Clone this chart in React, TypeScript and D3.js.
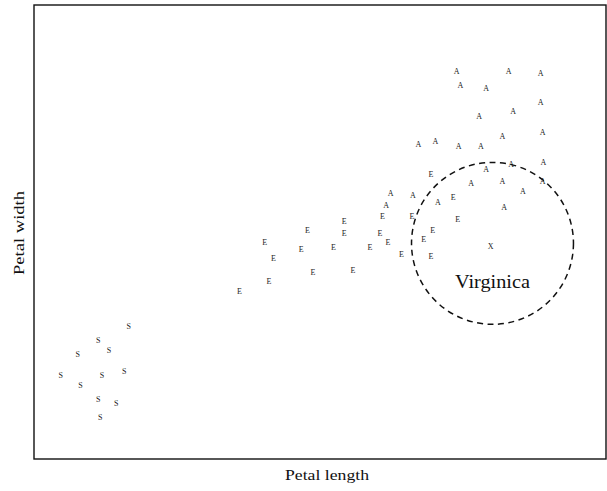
import React from "react";
import * as d3 from "d3";

// Petal length (x) and petal width (y) per species
const setosaLength = [1.81, 1.47, 1.59, 1.24, 1.05, 1.51, 1.76, 1.27, 1.47, 1.67, 1.49];
const setosaWidth = [0.76, 0.68, 0.62, 0.6, 0.48, 0.48, 0.5, 0.42, 0.34, 0.32, 0.24];

const versicolorLength = [4.22, 4.65, 4.98, 3.81, 4.22, 4.62, 5.21, 3.33, 4.71, 5.11, 3.74, 4.1, 4.51, 4.86, 5.19, 3.43, 3.87, 4.32, 3.38, 3.05, 5.19, 5.44, 5.49];
const versicolorWidth = [1.36, 1.39, 1.39, 1.31, 1.29, 1.29, 1.31, 1.24, 1.24, 1.26, 1.2, 1.21, 1.21, 1.17, 1.16, 1.15, 1.07, 1.08, 1.02, 0.96, 1.63, 1.5, 1.37];

const virginicaLength = [5.48, 6.06, 6.42, 5.52, 5.81, 6.42, 6.11, 5.73, 6.44, 5.99, 5.05, 5.24, 5.5, 5.75, 5.81, 6.09, 6.45, 5.64, 5.99, 6.44, 6.22, 4.99, 5.27, 4.74, 4.69, 6.01];
const virginicaWidth = [2.22, 2.22, 2.21, 2.14, 2.12, 2.04, 1.99, 1.96, 1.87, 1.85, 1.8, 1.82, 1.79, 1.79, 1.66, 1.69, 1.7, 1.58, 1.59, 1.59, 1.53, 1.51, 1.47, 1.52, 1.45, 1.44];

const speciesSymbols = ["S", "E", "A"];

// Marked point and its ring annotation
const centerPoint = { length: 5.86, width: 1.22, symbol: "X" };
const ringCenter = { length: 5.88, width: 1.235, radius: 0.906 };
const ringLabel = { text: "Virginica", length: 5.88, width: 0.98 };

const xLabel = "Petal length";
const yLabel = "Petal width";

const W = 607;
const H = 491;
const left = 34;
const right = 606;
const top = 5;
const bottom = 459;

export default function App() {
  const x = d3.scaleLinear().domain([0.75, 7.15]).range([left, right]);
  const y = d3.scaleLinear().domain([0, 2.6]).range([bottom, top]);

  const groups = [
    { lengths: setosaLength, widths: setosaWidth, sym: speciesSymbols[0] },
    { lengths: versicolorLength, widths: versicolorWidth, sym: speciesSymbols[1] },
    { lengths: virginicaLength, widths: virginicaWidth, sym: speciesSymbols[2] },
  ];

  const pxPerUnit = x(1) - x(0);
  const font = "'Liberation Serif', 'Times New Roman', Times, serif";

  return (
    <svg
      width={W}
      height={H}
      style={{ position: "absolute", left: 0, top: 0, background: "#fff", fontFamily: font }}
    >
      <rect x={left} y={top} width={right - left} height={bottom - top} fill="none" stroke="#111" strokeWidth={1.4} />
      {groups.map((g, gi) =>
        g.lengths.map((l, i) => (
          <text
            key={gi + "-" + i}
            x={x(l)}
            y={y(g.widths[i])}
            dy="0.33em"
            textAnchor="middle"
            fontSize={8}
            fill="#222"
          >
            {g.sym}
          </text>
        ))
      )}
      <text
        x={x(centerPoint.length)}
        y={y(centerPoint.width)}
        dy="0.33em"
        textAnchor="middle"
        fontSize={8}
        fill="#222"
      >
        {centerPoint.symbol}
      </text>
      <circle
        cx={x(ringCenter.length)}
        cy={y(ringCenter.width)}
        r={ringCenter.radius * pxPerUnit}
        fill="none"
        stroke="#111"
        strokeWidth={1.5}
        strokeDasharray="6,4.5"
      />
      <text
        x={x(ringLabel.length)}
        y={y(ringLabel.width)}
        textAnchor="middle"
        fontSize={18}
        textLength={75}
        lengthAdjust="spacingAndGlyphs"
        fill="#111"
      >
        {ringLabel.text}
      </text>
      <text
        x={(left + right) / 2 + 7}
        y={480}
        textAnchor="middle"
        fontSize={14}
        textLength={84}
        lengthAdjust="spacingAndGlyphs"
        fill="#111"
      >
        {xLabel}
      </text>
      <text
        transform={`translate(24, ${(top + bottom) / 2 + 1}) rotate(-90)`}
        textAnchor="middle"
        fontSize={14}
        textLength={84}
        lengthAdjust="spacingAndGlyphs"
        fill="#111"
      >
        {yLabel}
      </text>
    </svg>
  );
}
